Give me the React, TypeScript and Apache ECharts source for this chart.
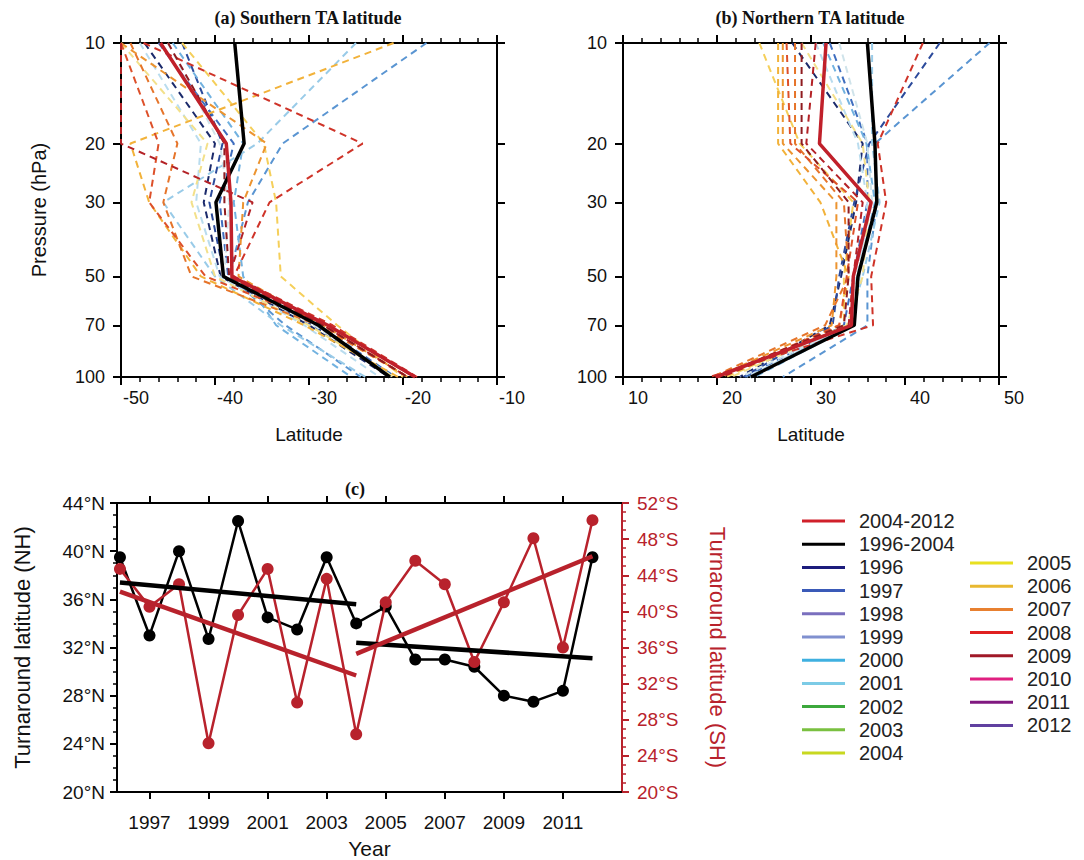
import React, { useEffect, useRef } from "react";
import * as echarts from "echarts";

// ---------------- data ----------------
const PRESSURE_LEVELS = [10, 20, 30, 50, 70, 100];
const PROFILE_YEARS = ["1996","1997","1998","1999","2000","2001","2002","2003","2004","2005","2006","2007","2008","2009","2010","2011","2012"];

// colours of the dashed profiles as drawn in panels (a) and (b)
const PROFILE_COLORS = ["#1b2a6b","#2b4a9b","#3f6ebf","#5a95d2","#72b2e0","#99cbe8","#b9dcee","#cfe3ea","#f3e08a","#f5cf5a","#f2b23a","#ec9430","#e6742a","#dd502a","#cf3328","#b42226","#8f1c20"];
// colours shown in the legend
const LEGEND_COLORS = ["#1c1c7c","#3a5ab8","#7a6fbe","#8090cf","#3fb0e0","#7ccbe6","#3ca83c","#7ac040","#c8d820","#e8e020","#e8b830","#e88030","#e02020","#a01828","#e02080","#801880","#6040a0"];

// Southern TA latitude per year at 10,20,30,50,70,100 hPa
const SH_1996 = [-47.5, -40.0, -41.2, -39.4, -30.0, -21.5];
const SH_1997 = [-43.5, -39.2, -40.6, -39.0, -29.6, -21.2];
const SH_1998 = [-46.0, -38.0, -39.5, -38.6, -29.0, -20.8];
const SH_1999 = [-17.5, -32.8, -36.5, -38.5, -32.5, -24.5];
const SH_2000 = [-44.5, -37.0, -38.0, -37.0, -33.5, -25.5];
const SH_2001 = [-25.0, -35.5, -45.5, -40.0, -33.0, -24.0];
const SH_2002 = [-48.0, -41.5, -42.0, -39.5, -30.5, -22.5];
const SH_2003 = [-45.0, -39.5, -38.5, -39.0, -29.5, -21.0];
const SH_2004 = [-50.0, -40.8, -42.5, -40.0, -30.0, -21.0];
const SH_2005 = [-43.5, -34.8, -33.5, -33.0, -27.0, -20.0];
const SH_2006 = [-21.0, -49.0, -47.0, -41.5, -30.5, -20.5];
const SH_2007 = [-50.0, -34.5, -37.0, -37.5, -28.5, -19.5];
const SH_2008 = [-49.0, -44.0, -45.5, -42.5, -29.0, -19.5];
const SH_2009 = [-50.0, -46.0, -47.0, -41.0, -28.0, -18.8];
const SH_2010 = [-47.6, -24.3, -34.2, -38.0, -27.5, -18.5];
const SH_2011 = [-50.0, -50.0, -36.0, -38.5, -28.5, -19.5];
const SH_2012 = [-45.0, -39.0, -39.0, -38.5, -28.5, -19.5];
const SH_PROFILES = [SH_1996, SH_1997, SH_1998, SH_1999, SH_2000, SH_2001, SH_2002, SH_2003, SH_2004, SH_2005, SH_2006, SH_2007, SH_2008, SH_2009, SH_2010, SH_2011, SH_2012];
const SH_MEAN_1996_2004 = [-37.9, -36.9, -39.9, -39.1, -29.0, -21.4];
const SH_MEAN_2004_2012 = [-45.8, -38.8, -38.3, -38.2, -28.0, -18.7];

// Northern TA latitude per year
const NH_1996 = [28.0, 35.5, 34.8, 33.2, 32.0, 22.4];
const NH_1997 = [43.7, 36.2, 34.6, 33.0, 32.3, 22.8];
const NH_1998 = [32.0, 36.0, 36.0, 34.5, 33.5, 23.0];
const NH_1999 = [49.0, 36.8, 37.0, 36.0, 36.0, 27.0];
const NH_2000 = [31.3, 35.9, 36.8, 35.0, 34.5, 24.0];
const NH_2001 = [36.5, 36.5, 37.3, 35.5, 34.0, 23.5];
const NH_2002 = [30.5, 35.0, 36.0, 35.2, 34.2, 23.2];
const NH_2003 = [33.0, 36.0, 36.5, 34.8, 34.0, 22.5];
const NH_2004 = [29.0, 35.5, 36.2, 35.5, 33.8, 21.5];
const NH_2005 = [24.5, 28.8, 34.5, 33.5, 33.5, 21.0];
const NH_2006 = [26.5, 26.5, 31.0, 34.0, 33.0, 20.5];
const NH_2007 = [27.0, 27.0, 32.7, 32.7, 32.2, 19.9];
const NH_2008 = [28.3, 28.3, 33.5, 34.0, 31.5, 19.5];
const NH_2009 = [27.4, 27.8, 35.0, 33.8, 33.0, 20.2];
const NH_2010 = [41.9, 37.1, 38.0, 36.4, 36.6, 19.2];
const NH_2011 = [30.5, 29.5, 35.5, 34.5, 34.0, 20.5];
const NH_2012 = [29.0, 29.0, 34.0, 34.0, 33.5, 19.8];
const NH_PROFILES = [NH_1996, NH_1997, NH_1998, NH_1999, NH_2000, NH_2001, NH_2002, NH_2003, NH_2004, NH_2005, NH_2006, NH_2007, NH_2008, NH_2009, NH_2010, NH_2011, NH_2012];
const NH_MEAN_1996_2004 = [36.0, 36.8, 37.0, 35.0, 34.6, 23.6];
const NH_MEAN_2004_2012 = [31.6, 30.9, 36.4, 34.5, 34.3, 19.9];

// panel (c) time series
const TS_YEARS = [1996, 1997, 1998, 1999, 2000, 2001, 2002, 2003, 2004, 2005, 2006, 2007, 2008, 2009, 2010, 2011, 2012];
const TA_NH = [39.5, 33.0, 40.0, 32.7, 42.5, 34.5, 33.5, 39.5, 34.0, 35.4, 31.0, 31.0, 30.4, 28.0, 27.5, 28.4, 39.5];
const TA_SH = [44.7, 40.5, 43.0, 25.4, 39.6, 44.7, 29.9, 43.6, 26.4, 41.0, 45.6, 43.0, 34.4, 41.0, 48.1, 36.0, 50.1];
const TREND_NH_1996_2004 = [[1996, 37.4], [2004, 35.6]];
const TREND_NH_2004_2012 = [[2004, 32.4], [2012, 31.1]];
const TREND_SH_1996_2004 = [[1996, 42.2], [2004, 32.9]];
const TREND_SH_2004_2012 = [[2004, 35.3], [2012, 46.1]];
const YEAR_TICKS = [1997, 1999, 2001, 2003, 2005, 2007, 2009, 2011];

const SERIES_LEGEND_1 = ["2004-2012", "1996-2004", "1996", "1997", "1998", "1999", "2000", "2001", "2002", "2003", "2004"];
const SERIES_LEGEND_2 = ["2005", "2006", "2007", "2008", "2009", "2010", "2011", "2012"];

// ---------------- styling ----------------
const SANS = "Liberation Sans";
const SERIF = "Liberation Serif";
const RED = "#c0202a";
const LOG_P = PRESSURE_LEVELS.map((p) => Math.log10(p));

const axisLineStyle = (color = "#000") => ({ show: true, lineStyle: { color, width: 2 } });
const tickStyle = (len: number, color = "#000", extra: any = {}) => ({ show: true, length: len, lineStyle: { color, width: 2 }, ...extra });

function latAxes(grid: number, min: number, max: number) {
  const common = {
    gridIndex: grid, type: "value", min, max, interval: 10,
    splitLine: { show: false },
    axisLine: axisLineStyle(),
    minorTick: { show: true, splitNumber: 5, length: 5, lineStyle: { color: "#000", width: 1.5 } },
    axisTick: tickStyle(8),
  };
  return [
    {
      ...common, position: "bottom",
      axisLabel: { fontSize: 18, color: "#111", fontFamily: SANS, margin: 12, padding: [0, 0, 0, 30] },
      name: "Latitude", nameLocation: "middle", nameGap: 48,
      nameTextStyle: { fontSize: 19, color: "#111", fontFamily: SANS },
    },
    { ...common, position: "top", axisLabel: { show: false } },
  ];
}

function pressureAxes(grid: number, withName: boolean) {
  const common = {
    gridIndex: grid, type: "value", min: 1, max: 2, inverse: true,
    splitLine: { show: false },
    axisLine: axisLineStyle(),
    axisTick: tickStyle(8, "#000", { customValues: LOG_P }),
  };
  return [
    {
      ...common, position: "left",
      axisLabel: {
        customValues: LOG_P, fontSize: 18, color: "#111", fontFamily: SANS, margin: 16,
        formatter: (v: number) => String(Math.round(Math.pow(10, v))),
      },
      ...(withName
        ? { name: "Pressure (hPa)", nameLocation: "middle", nameGap: 72, nameTextStyle: { fontSize: 20, color: "#111", fontFamily: SANS } }
        : {}),
    },
    { ...common, position: "right", axisLabel: { show: false } },
  ];
}

function profileSeries(name: string, lats: number[], x: number, y: number, color: string, solid: boolean, z: number) {
  return {
    type: "line", name, xAxisIndex: x, yAxisIndex: y, z,
    data: PRESSURE_LEVELS.map((p, k) => [lats[k], Math.log10(p)]),
    showSymbol: false, symbol: "none",
    lineStyle: solid ? { color, width: 3.5 } : { color, width: 2, type: [7, 5] },
    itemStyle: { color },
  };
}

function legendItems(names: string[]) {
  return names.map((n) => {
    let color = "#000";
    if (n === "2004-2012") color = "#d0202a";
    else if (n === "1996-2004") color = "#000";
    else color = LEGEND_COLORS[PROFILE_YEARS.indexOf(n)];
    return { name: n, itemStyle: { color, borderWidth: 0 } };
  });
}

export default function App() {
  const ref = useRef<HTMLDivElement>(null);
  useEffect(() => {
    if (!ref.current) return;
    const chart = echarts.init(ref.current, undefined, { renderer: "svg" });

    const series: any[] = [];
    PROFILE_YEARS.forEach((yr, i) => {
      series.push(profileSeries(yr, SH_PROFILES[i], 0, 0, PROFILE_COLORS[i], false, 2));
      series.push(profileSeries(yr, NH_PROFILES[i], 2, 2, PROFILE_COLORS[i], false, 2));
    });
    series.push(profileSeries("1996-2004", SH_MEAN_1996_2004, 0, 0, "#000", true, 5));
    series.push(profileSeries("2004-2012", SH_MEAN_2004_2012, 0, 0, RED, true, 6));
    series.push(profileSeries("1996-2004", NH_MEAN_1996_2004, 2, 2, "#000", true, 5));
    series.push(profileSeries("2004-2012", NH_MEAN_2004_2012, 2, 2, RED, true, 6));

    const cRed = "#b8222c";
    series.push({
      type: "line", name: "NH", xAxisIndex: 4, yAxisIndex: 4, z: 3,
      data: TS_YEARS.map((y, i) => [y, TA_NH[i]]),
      symbol: "circle", symbolSize: 12,
      lineStyle: { color: "#000", width: 2.5 }, itemStyle: { color: "#000" },
    });
    series.push({
      type: "line", name: "SH", xAxisIndex: 4, yAxisIndex: 5, z: 4,
      data: TS_YEARS.map((y, i) => [y, TA_SH[i]]),
      symbol: "circle", symbolSize: 12,
      lineStyle: { color: cRed, width: 2.5 }, itemStyle: { color: cRed },
    });
    const trend = (name: string, d: number[][], yIdx: number, color: string) => ({
      type: "line", name, xAxisIndex: 4, yAxisIndex: yIdx, z: 5, data: d,
      symbol: "none", lineStyle: { color, width: 4.5 }, itemStyle: { color },
    });
    series.push(trend("NH trend 1", TREND_NH_1996_2004, 4, "#000"));
    series.push(trend("NH trend 2", TREND_NH_2004_2012, 4, "#000"));
    series.push(trend("SH trend 1", TREND_SH_1996_2004, 5, cRed));
    series.push(trend("SH trend 2", TREND_SH_2004_2012, 5, cRed));

    const legendCommon = {
      orient: "vertical", icon: "rect", itemWidth: 43, itemHeight: 3, itemGap: 3.2,
      selectedMode: false,
      textStyle: { fontSize: 20, fontFamily: SANS, color: "#222", lineHeight: 20, padding: [0, 0, 0, 9] },
    };

    const option: any = {
      animation: false,
      backgroundColor: "#fff",
      grid: [
        { left: 121, top: 43, width: 376, height: 334 },
        { left: 623, top: 43, width: 376, height: 334 },
        { left: 117, top: 503, width: 505, height: 292 },
      ],
      xAxis: [
        ...latAxes(0, -50, -10),
        ...latAxes(1, 10, 50),
        {
          gridIndex: 2, type: "value", min: 1995.9, max: 2013, position: "bottom",
          splitLine: { show: false }, axisLine: axisLineStyle(),
          axisTick: tickStyle(7, "#000", { customValues: YEAR_TICKS }),
          axisLabel: { customValues: YEAR_TICKS, fontSize: 19, color: "#111", fontFamily: SANS, margin: 21, formatter: (v: number) => String(v) },
          name: "Year", nameLocation: "middle", nameGap: 46,
          nameTextStyle: { fontSize: 21, color: "#111", fontFamily: SANS },
        },
        {
          gridIndex: 2, type: "value", min: 1995.9, max: 2013, position: "top",
          splitLine: { show: false }, axisLine: axisLineStyle(),
          axisTick: tickStyle(7, "#000", { customValues: YEAR_TICKS }),
          axisLabel: { show: false },
        },
      ],
      yAxis: [
        ...pressureAxes(0, true),
        ...pressureAxes(1, false),
        {
          gridIndex: 2, type: "value", min: 20, max: 44, interval: 4, position: "left",
          splitLine: { show: false }, axisLine: axisLineStyle(),
          axisTick: tickStyle(7),
          minorTick: { show: true, splitNumber: 4, length: 4, lineStyle: { color: "#000", width: 1.5 } },
          axisLabel: { formatter: "{value}°N", fontSize: 19, color: "#111", fontFamily: SANS, margin: 12 },
          name: "Turnaround latitude (NH)", nameLocation: "middle", nameGap: 84,
          nameTextStyle: { fontSize: 22, color: "#111", fontFamily: SANS },
        },
        {
          gridIndex: 2, type: "value", min: 20, max: 52, interval: 4, position: "right",
          splitLine: { show: false }, axisLine: axisLineStyle(cRed),
          axisTick: tickStyle(7, cRed),
          minorTick: { show: true, splitNumber: 4, length: 4, lineStyle: { color: cRed, width: 1.5 } },
          axisLabel: { formatter: "{value}°S", fontSize: 19, color: cRed, fontFamily: SANS, margin: 15 },
          name: "Turnaround latitude (SH)", nameLocation: "middle", nameGap: 84, nameRotate: -90,
          nameTextStyle: { fontSize: 22, color: cRed, fontFamily: SANS },
        },
      ],
      legend: [
        { ...legendCommon, left: 797, top: 506, data: legendItems(SERIES_LEGEND_1) },
        { ...legendCommon, left: 965, top: 548, data: legendItems(SERIES_LEGEND_2) },
      ],
      graphic: [
        { type: "text", x: 308, y: 18, style: { text: "(a) Southern TA latitude", font: `bold 18px "${SERIF}"`, fill: "#111", align: "center", verticalAlign: "middle" } },
        { type: "text", x: 810, y: 18, style: { text: "(b) Northern TA latitude", font: `bold 18px "${SERIF}"`, fill: "#111", align: "center", verticalAlign: "middle" } },
        { type: "text", x: 355, y: 489, style: { text: "(c)", font: `bold 18px "${SERIF}"`, fill: "#111", align: "center", verticalAlign: "middle" } },
      ],
      series,
    };
    chart.setOption(option);
    return () => chart.dispose();
  }, []);

  return (
    <div
      ref={ref}
      style={{ position: "absolute", left: 0, top: 0, width: 1084, height: 860, background: "#fff" }}
    />
  );
}
